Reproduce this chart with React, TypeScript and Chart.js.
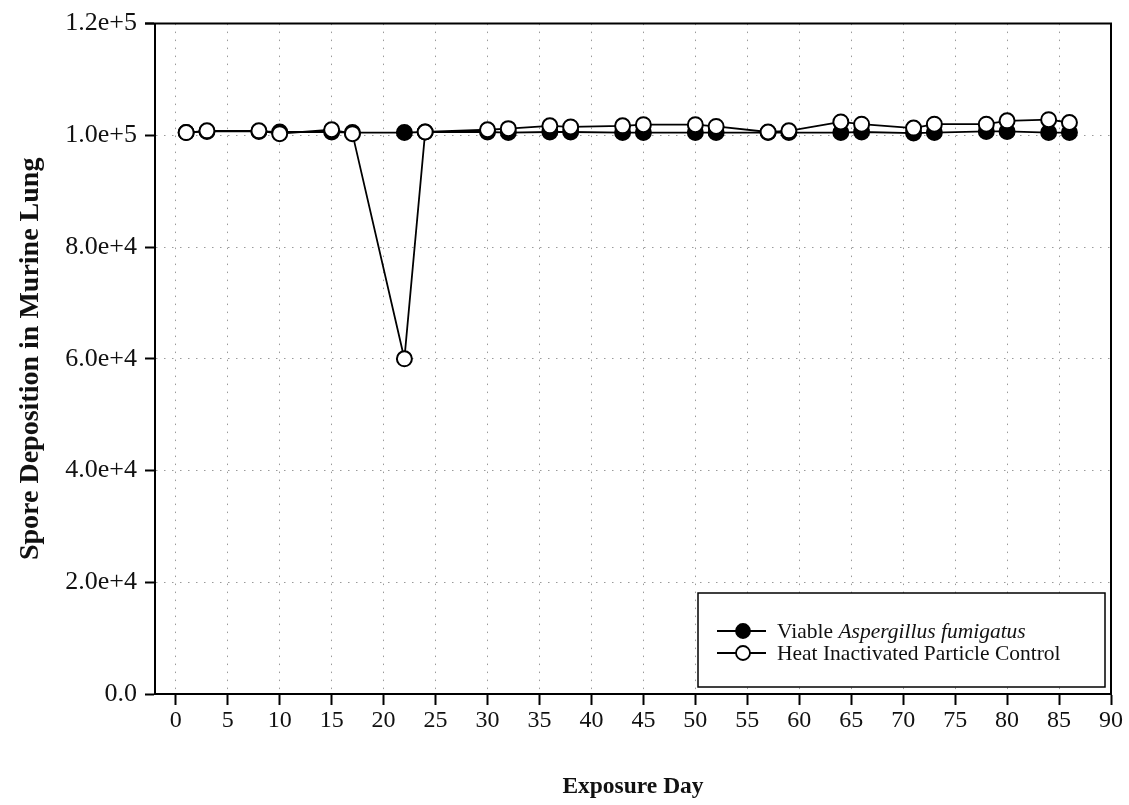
import React, { useEffect, useRef } from "react";
import { Chart, registerables } from "chart.js";

Chart.register(...registerables);

const days = [1, 3, 8, 10, 15, 17, 22, 24, 30, 32, 36, 38, 43, 45, 50, 52, 57, 59, 64, 66, 71, 73, 78, 80, 84, 86];
const viable = [100500, 100700, 100700, 100600, 100600, 100500, 100500, 100600, 100600, 100500, 100600, 100600, 100500, 100500, 100500, 100500, 100500, 100500, 100500, 100600, 100400, 100500, 100700, 100700, 100500, 100500];
const heatInactivated = [100500, 100800, 100800, 100300, 101000, 100300, 60000, 100600, 101000, 101200, 101700, 101500, 101700, 101900, 101900, 101600, 100600, 100800, 102400, 102000, 101300, 102000, 102000, 102600, 102800, 102300];

const yTickValues = [0, 20000, 40000, 60000, 80000, 100000, 120000];
const yTickLabels = ["0.0", "2.0e+4", "4.0e+4", "6.0e+4", "8.0e+4", "1.0e+5", "1.2e+5"];

const viableLabelPlain = "Viable ";
const viableLabelItalic = "Aspergillus fumigatus";
const heatLabel = "Heat Inactivated Particle Control";
const xTitle = "Exposure Day";
const yTitle = "Spore Deposition in Murine Lung";

const SERIF = "'Liberation Serif', 'Times New Roman', serif";

const framePlugin = {
  id: "frame",
  afterDatasetsDraw(chart: any) {
    const { ctx, chartArea } = chart;
    ctx.save();
    ctx.strokeStyle = "#000";
    ctx.lineWidth = 2;
    ctx.beginPath();
    ctx.moveTo(chartArea.left - 10, chartArea.top);
    ctx.lineTo(chartArea.right, chartArea.top);
    ctx.lineTo(chartArea.right, chartArea.bottom);
    ctx.stroke();
    ctx.restore();
  },
};

const legendPlugin = {
  id: "boxLegend",
  afterDraw(chart: any) {
    const { ctx, chartArea } = chart;
    const w = 407;
    const h = 94;
    const x = chartArea.right - 6 - w;
    const y = chartArea.bottom - 7 - h;
    ctx.save();
    ctx.fillStyle = "#fff";
    ctx.fillRect(x, y, w, h);
    ctx.strokeStyle = "#000";
    ctx.lineWidth = 1.5;
    ctx.strokeRect(x, y, w, h);

    const rows = [
      { y: y + 38, fill: "#000", parts: [[viableLabelPlain, ""], [viableLabelItalic, "italic "]] },
      { y: y + 60, fill: "#fff", parts: [[heatLabel, ""]] },
    ];
    rows.forEach((r) => {
      ctx.strokeStyle = "#000";
      ctx.lineWidth = 1.8;
      ctx.beginPath();
      ctx.moveTo(x + 19, r.y);
      ctx.lineTo(x + 68, r.y);
      ctx.stroke();
      ctx.beginPath();
      ctx.arc(x + 45, r.y, 7, 0, Math.PI * 2);
      ctx.fillStyle = r.fill;
      ctx.fill();
      ctx.stroke();
      let tx = x + 79;
      ctx.fillStyle = "#111";
      ctx.textBaseline = "middle";
      ctx.textAlign = "left";
      r.parts.forEach(([t, style]) => {
        ctx.font = `${style}21.5px ${SERIF}`;
        ctx.fillText(t, tx, r.y + 1);
        tx += ctx.measureText(t).width;
      });
    });
    ctx.restore();
  },
};

export default function App() {
  const canvasRef = useRef<HTMLCanvasElement | null>(null);

  useEffect(() => {
    const canvas = canvasRef.current;
    if (!canvas) return;
    const chart = new Chart(canvas, {
      type: "line",
      data: {
        datasets: [
          {
            label: viableLabelPlain + viableLabelItalic,
            data: days.map((d, i) => ({ x: d, y: viable[i] })),
            borderColor: "#000",
            borderWidth: 1.8,
            pointRadius: 7.5,
            pointBackgroundColor: "#000",
            pointBorderColor: "#000",
            pointBorderWidth: 2,
            order: 2,
          },
          {
            label: heatLabel,
            data: days.map((d, i) => ({ x: d, y: heatInactivated[i] })),
            borderColor: "#000",
            borderWidth: 1.8,
            pointRadius: 7.5,
            pointBackgroundColor: "#fff",
            pointBorderColor: "#000",
            pointBorderWidth: 2,
            order: 1,
          },
        ],
      },
      options: {
        responsive: false,
        animation: false,
        devicePixelRatio: 1,
        layout: { padding: { top: 22, right: 18, left: 0, bottom: 0 } },
        plugins: {
          legend: { display: false },
          tooltip: { enabled: false },
        },
        scales: {
          x: {
            type: "linear",
            min: -2,
            max: 90,
            afterFit: (scale: any) => {
              scale.height = 111;
            },
            ticks: {
              stepSize: 5,
              includeBounds: false,
              color: "#111",
              padding: 1,
              maxRotation: 0,
              autoSkip: false,
              font: { family: SERIF, size: 24 },
            },
            grid: {
              color: "#9a9a9a",
              lineWidth: 1,
              drawTicks: true,
              tickLength: 11,
              tickColor: "#000",
              tickWidth: 2,
              tickBorderDash: [],
            },
            border: { display: true, color: "#000", width: 2, dash: [1.5, 6.5] },
            title: {
              display: true,
              text: xTitle,
              color: "#111",
              font: { family: SERIF, size: 23.5, weight: "bold" },
              padding: { top: 0, bottom: 4 },
            },
          },
          y: {
            type: "linear",
            min: 0,
            max: 120000,
            afterFit: (scale: any) => {
              scale.width = 155;
            },
            afterBuildTicks: (scale: any) => {
              scale.ticks = yTickValues.map((v) => ({ value: v }));
            },
            ticks: {
              color: "#111",
              padding: 8,
              font: { family: SERIF, size: 26 },
              callback: (value: any) => {
                const idx = yTickValues.indexOf(Number(value));
                return idx >= 0 ? yTickLabels[idx] : "";
              },
            },
            grid: {
              color: "#9a9a9a",
              lineWidth: 1,
              drawTicks: true,
              tickLength: 10,
              tickColor: "#000",
              tickWidth: 2,
              tickBorderDash: [],
            },
            border: { display: true, color: "#000", width: 2, dash: [1.5, 6.5] },
            title: {
              display: true,
              text: yTitle,
              color: "#111",
              font: { family: SERIF, size: 28, weight: "bold" },
              padding: { top: 14, bottom: 0 },
            },
          },
        },
      },
      plugins: [framePlugin, legendPlugin],
    } as any);
    return () => chart.destroy();
  }, []);

  return (
    <div style={{ position: "absolute", left: 0, top: 0, width: 1129, height: 805, background: "#fff" }}>
      <canvas ref={canvasRef} width={1129} height={805} style={{ display: "block" }} />
    </div>
  );
}
